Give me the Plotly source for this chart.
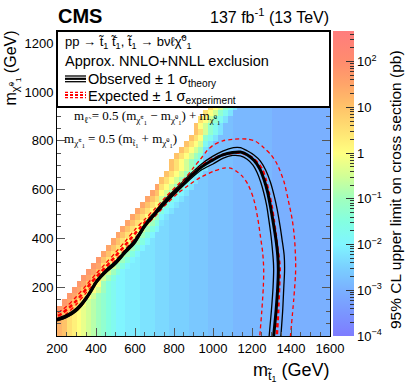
import numpy as np
import plotly.graph_objects as go

# ---------------- data ----------------
mstop_edges = list(range(200, 1601, 25))   # GeV, 56 bins
mlsp_edges = list(range(0, 1001, 25))      # GeV, 40 bins

# level code: lowercase 'a' = 1e-4 pb, each next letter +0.25 decade;
# uppercase = same letter +0.125 decade ; '.' = no point
level_codes = "abcdefghijklmnopqrstuvwxyz"

# limit far from the diagonal, one code per mstop bin (200 -> 1600)
far_row = "vusrqponml" "kjiiHHHhhh" "GGGggggFFF" "FfffffEEEE" "EEEEeeeeee" "eeeeee"

# cells along the diagonal: (empty bins on the left, codes of the first filled bins)
diag_cells = [
    (0, ""), (0, ""), (0, ""), (0, "w"), (0, "xwus"),
    (1, "xwusq"), (2, "xwusqo"), (3, "xwusqom"), (4, "xwusqm"), (5, "xwusomk"),
    (6, "xwuqomki"), (7, "xwsqomki"), (8, "xusqomki"), (9, "wusqomki"), (10, "wusqomki"),
    (11, "wusqomki"), (12, "wusqomki"), (13, "wusqomki"), (14, "wusqomkh"), (15, "wusqomih"),
    (16, "wusqokih"), (17, "wusqmkih"), (18, "wusomkih"), (19, "wuqomkih"), (20, "wsqomkih"),
    (21, "usqomkih"), (22, "usqomkih"), (23, "usqomkih"), (23, "usqomki"), (24, "usqomk"),
    (25, "usqomh"), (26, "usqojh"), (27, "usqljh"), (28, "usoljh"), (28, "uqoljh"),
    (29, "sqoljh"), (30, "sqoljh"), (31, "sqoljh"), (32, "sqoljh"), (33, "sqoljh"),
]
assert len(far_row) == 56

obs_x = [200, 225, 250, 275, 300, 325, 350, 375, 400, 425, 450, 475, 500, 525, 550, 575, 600, 625, 650, 675, 700, 730, 760, 790, 820, 850, 880, 910, 940, 970, 1000, 1050, 1100, 1140, 1175, 1210, 1240, 1262, 1280, 1295, 1310, 1322, 1332, 1335, 1332, 1323, 1311]
obs_y = [67, 72, 82, 92, 108, 128, 155, 185, 220, 245, 265, 282, 300, 322, 345, 365, 388, 420, 452, 478, 500, 530, 555, 580, 603, 625, 650, 672, 692, 708, 722, 742, 752, 754, 743, 720, 685, 640, 590, 530, 460, 400, 330, 270, 200, 100, 0]

obs_up_x = [200, 250, 300, 350, 400, 450, 500, 550, 600, 650, 700, 760, 820, 880, 940, 1000, 1050, 1105, 1140, 1175, 1210, 1243, 1270, 1295, 1315, 1329, 1344, 1354, 1365, 1367, 1363, 1357, 1348]
obs_up_y = [72, 88, 115, 162, 226, 272, 307, 352, 396, 460, 508, 564, 612, 660, 704, 737, 758, 772, 772, 759, 742, 717, 680, 629, 570, 519, 450, 396, 330, 270, 200, 100, 0]

obs_dn_x = [200, 250, 300, 350, 400, 450, 500, 550, 600, 650, 700, 760, 820, 880, 940, 1000, 1050, 1100, 1140, 1175, 1205, 1226, 1245, 1260, 1275, 1286, 1296, 1303, 1310, 1311, 1308, 1299, 1288]
obs_dn_y = [62, 76, 101, 148, 214, 258, 293, 338, 380, 444, 492, 546, 594, 640, 680, 705, 728, 740, 738, 724, 700, 670, 630, 588, 535, 478, 420, 368, 300, 270, 200, 100, 0]

exp_x = [205, 225, 250, 275, 300, 325, 350, 375, 400, 425, 450, 475, 500, 525, 550, 575, 600, 625, 650, 675, 700, 730, 760, 790, 820, 850, 880, 910, 940, 970, 1000, 1050, 1100, 1150, 1200, 1230, 1252, 1270, 1286, 1300, 1311, 1321, 1329, 1340, 1342, 1339, 1334, 1327]
exp_y = [82, 92, 108, 125, 145, 168, 193, 218, 240, 262, 283, 305, 327, 350, 372, 396, 420, 442, 465, 485, 505, 532, 557, 580, 605, 628, 652, 675, 695, 712, 725, 742, 750, 750, 731, 708, 683, 640, 588, 535, 478, 420, 368, 300, 270, 200, 100, 0]

exp_up_x = [205, 250, 300, 350, 400, 450, 500, 550, 600, 650, 700, 760, 820, 860, 900, 936, 970, 1003, 1050, 1100, 1175, 1220, 1260, 1300, 1329, 1363, 1385, 1406, 1418, 1424, 1423, 1414, 1397]
exp_up_y = [95, 122, 162, 208, 255, 298, 342, 388, 436, 478, 520, 572, 620, 650, 690, 725, 760, 783, 800, 806, 807, 797, 772, 740, 704, 635, 560, 478, 400, 300, 250, 150, 0]

exp_dn_x = [210, 250, 300, 350, 400, 450, 500, 550, 600, 650, 700, 760, 820, 870, 935, 1003, 1055, 1089, 1120, 1150, 1180, 1209, 1230, 1243, 1255, 1260, 1258, 1250, 1240]
exp_dn_y = [72, 92, 130, 178, 224, 268, 312, 356, 402, 448, 488, 540, 585, 615, 650, 675, 688, 688, 675, 655, 620, 560, 480, 409, 340, 273, 200, 100, 0]

cbar_tickvals = [-4, -3, -2, -1, 0, 1, 2]
cbar_ticktext = ["10<sup>\u22124</sup>", "10<sup>\u22123</sup>", "10<sup>\u22122</sup>",
                 "10<sup>\u22121</sup>", "1", "10", "10<sup>2</sup>"]
zmin, zmax = -4.0, 2.67

# ---------------- build ----------------
def code_value(c):
    if c == ".":
        return None
    if c.isupper():
        return -4.0 + 0.25 * level_codes.index(c.lower()) + 0.125
    return -4.0 + 0.25 * level_codes.index(c)

limit_rows = []
for n_empty, near in diag_cells:
    row = "." * n_empty + near + far_row[n_empty + len(near):]
    assert len(row) == 56
    limit_rows.append(row)
z = [[code_value(c) for c in row] for row in limit_rows]

def p(v):
    return (v - zmin) / (zmax - zmin)

colorscale = [
    [0.0, "rgb(126,124,255)"],
    [p(-3.5), "rgb(122,150,255)"],
    [p(-3.0), "rgb(122,176,255)"],
    [p(-2.5), "rgb(122,208,255)"],
    [p(-2.0), "rgb(128,245,255)"],
    [p(-1.5), "rgb(132,255,225)"],
    [p(-1.0), "rgb(160,255,190)"],
    [p(-0.5), "rgb(210,255,150)"],
    [p(0.0), "rgb(255,255,128)"],
    [p(0.5), "rgb(255,225,115)"],
    [p(1.0), "rgb(255,195,105)"],
    [p(1.5), "rgb(255,165,105)"],
    [p(2.0), "rgb(255,140,110)"],
    [1.0, "rgb(255,125,125)"],
]

W, H = 407, 391
ML, MR, MT, MB = 57, 77, 31, 55
PW, PH = W - ML - MR, H - MT - MB

def px(xp):
    return (xp - ML) / PW

def py(yp):
    return (H - MB - yp) / PH

FONT = "Liberation Sans, Arial, Helvetica, sans-serif"
SERIF = "Liberation Serif, Times New Roman, serif"

fig = go.Figure()
fig.add_trace(go.Heatmap(
    x=mstop_edges, y=mlsp_edges, z=z, zmin=zmin, zmax=zmax,
    colorscale=colorscale, hoverinfo="skip",
    colorbar=dict(x=px(333), xanchor="left", xpad=0, ypad=0, y=0.5, yanchor="middle",
                  len=1, lenmode="fraction", thickness=21, outlinewidth=0,
                  tickvals=cbar_tickvals, ticktext=cbar_ticktext, ticks="inside",
                  ticklen=8, tickcolor="#333", tickwidth=1,
                  tickfont=dict(family=FONT, size=13, color="black")),
))

# minor log ticks on colorbar (transparent second colorbar)
minor_vals = [float(np.log10(m * 10.0 ** d)) for d in range(-4, 3) for m in range(2, 10)
              if np.log10(m * 10.0 ** d) < zmax]
fig.add_trace(go.Scatter(
    x=[None], y=[None], mode="markers", showlegend=False, hoverinfo="skip",
    marker=dict(color=[0], cmin=zmin, cmax=zmax, showscale=True,
                colorscale=[[0, "rgba(0,0,0,0)"], [1, "rgba(0,0,0,0)"]],
                colorbar=dict(x=px(333), xanchor="left", xpad=0, ypad=0, y=0.5, yanchor="middle",
                              len=1, lenmode="fraction", thickness=21, outlinewidth=0,
                              tickvals=minor_vals, ticks="inside", ticklen=4,
                              tickcolor="#333", showticklabels=False)),
))

def line(xs, ys, color, width, dash=None):
    fig.add_trace(go.Scatter(x=xs, y=ys, mode="lines", hoverinfo="skip", showlegend=False,
                             line=dict(color=color, width=width, dash=dash,
                                       shape="spline", smoothing=0.8)))

RED = "rgb(255,0,0)"
line(exp_up_x, exp_up_y, RED, 1.3, "4px,3px")
line(exp_dn_x, exp_dn_y, RED, 1.3, "4px,3px")
line(obs_up_x, obs_up_y, "black", 1.3)
line(obs_dn_x, obs_dn_y, "black", 1.3)
line(exp_x, exp_y, RED, 2.6, "4px,3px")
line(obs_x, obs_y, "black", 3)

shapes = [
    dict(type="rect", xref="paper", yref="paper", x0=0, x1=1, y0=py(107), y1=1,
         fillcolor="white", line=dict(color="black", width=2), layer="above"),
]
for yy, ww in [(76, 1.3), (78.8, 2.2), (81.7, 1.3)]:
    shapes.append(dict(type="line", xref="paper", yref="paper", x0=px(65), x1=px(86),
                       y0=py(yy), y1=py(yy), line=dict(color="black", width=ww), layer="above"))
for yy, ww in [(92.3, 1.3), (95, 2.0), (97.7, 1.3)]:
    shapes.append(dict(type="line", xref="paper", yref="paper", x0=px(65), x1=px(86),
                       y0=py(yy), y1=py(yy), line=dict(color=RED, width=ww, dash="3px,2px"),
                       layer="above"))

def ann(text, x, y, size, xanchor="left", yanchor="middle", family=FONT, angle=0, bold=False):
    return dict(text=f"<b>{text}</b>" if bold else text, x=x, y=y, xref="paper", yref="paper",
                showarrow=False, xanchor=xanchor, yanchor=yanchor, textangle=angle,
                font=dict(family=family, size=size, color="black"))

chi0 = "\u03c7\u0303<sup>0</sup><sub>1</sub>"
chipm = "\u03c7\u0303<sup>\u00b1</sup><sub>1</sub>"
stop = "t\u0303<sub>1</sub>"
antistop = "t\u0303\u0304<sub>1</sub>"
annotations = [
    ann("CMS", px(56), py(16), 20, bold=True),
    ann("137 fb<sup>-1</sup> (13 TeV)", px(331), py(16), 16, xanchor="right"),
    ann(f"pp \u2192 {stop} {antistop}, {stop} \u2192 b\u03bd\u2113{chi0}",
        px(63), py(42), 13),
    ann("Approx. NNLO+NNLL exclusion", px(63), py(61), 14.5),
    ann("Observed \u00b1 1 \u03c3<sub>theory</sub>", px(86), py(80), 14.5),
    ann("Expected \u00b1 1 \u03c3<sub>experiment</sub>", px(86), py(97), 14.5),
    ann(f"m<sub>\u2113\u0303</sub> = 0.5 (m<sub>{chipm}</sub> \u2212 m<sub>{chi0}</sub>) + m<sub>{chi0}</sub>",
        px(72), py(117), 13, family=SERIF),
    ann(f"m<sub>{chipm}</sub> = 0.5 (m<sub>{stop}</sub> + m<sub>{chi0}</sub>)",
        px(62), py(140), 13, family=SERIF),
    ann(f"m<sub>{stop}</sub> (GeV)", px(331), py(372), 18, xanchor="right"),
    ann(f"m<sub>{chi0}</sub> (GeV)", px(12), py(29), 16, xanchor="center", yanchor="top", angle=-90),
    ann("95% CL upper limit on cross section (pb)", px(395), py(190), 15.5,
        xanchor="center", angle=-90),
]

axis_common = dict(ticks="inside", ticklen=8, tickcolor="#555", tickwidth=1, showline=True,
                   linecolor="black", linewidth=1, mirror="ticks", showgrid=False, zeroline=False,
                   tickfont=dict(family=FONT, size=13, color="black"))
fig.update_layout(
    width=W, height=H, margin=dict(l=ML, r=MR, t=MT, b=MB, pad=0),
    paper_bgcolor="white", plot_bgcolor="white", showlegend=False,
    xaxis=dict(range=[200, 1600], tickvals=[200, 400, 600, 800, 1000, 1200, 1400, 1600],
               minor=dict(ticks="inside", ticklen=4, dtick=50, tick0=0, tickcolor="#555"),
               **axis_common),
    yaxis=dict(range=[0, 1250], tickvals=[200, 400, 600, 800, 1000, 1200],
               minor=dict(ticks="inside", ticklen=4, dtick=50, tick0=0, tickcolor="#555"),
               **axis_common),
    shapes=shapes, annotations=annotations,
)
fig.write_html("out.html", config={"displayModeBar": False, "staticPlot": True},
               post_script="document.body.style.margin='0px';")
